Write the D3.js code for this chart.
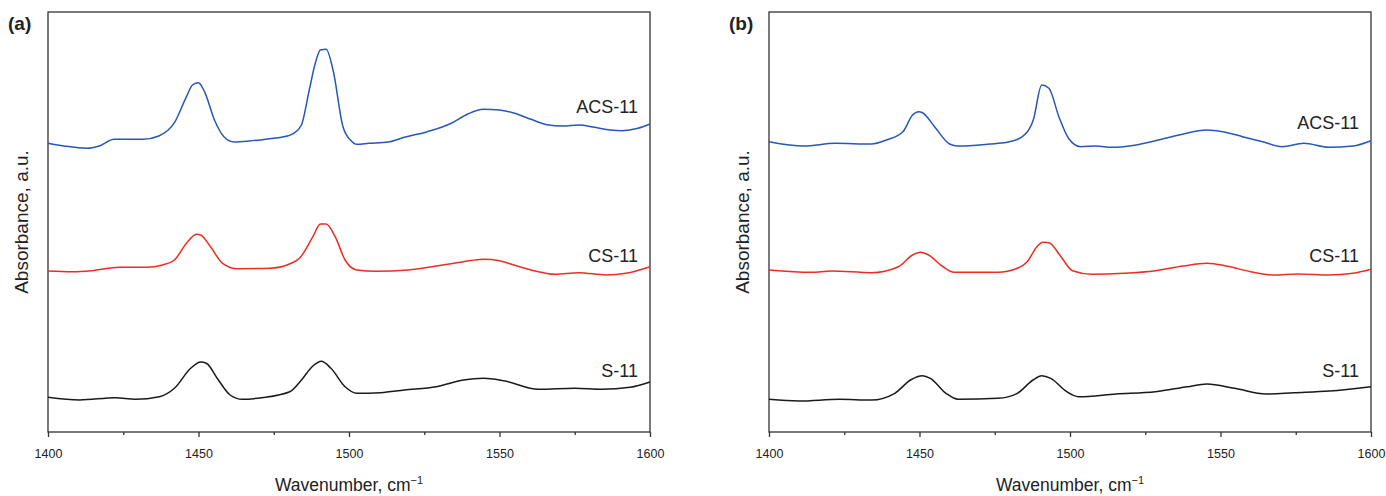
<!DOCTYPE html>
<html lang="en">
  <head>
    <meta charset="utf-8">
    <title>FTIR spectra</title>
    <script src="https://d3js.org/d3.v7.js"></script>
    <style>
      body { margin: 0; background: #fff; }
      text { font-family: "Liberation Sans", Arial, sans-serif; fill: #222; }
    </style>
  </head>
  <body>
    <script>

  // page size
  var w = 1386;
  var h = 496;

  // wavenumber ticks
  var majorTicks = [1400, 1450, 1500, 1550, 1600];
  var minorTicks = [1425, 1475, 1525, 1575];

  // [wavenumber, absorbance a.u.]
  var aACS = [[1400,2.887],[1405.3,2.86],[1413,2.837],[1417,2.86],[1422,2.927],[1431.6,2.927],[1436.8,2.96],[1442,3.093],[1446,3.353],[1448,3.47],[1450,3.493],[1452,3.403],[1455.3,3.12],[1458.6,2.947],[1461.8,2.9],[1467,2.91],[1473.7,2.933],[1477.6,2.947],[1481.6,2.987],[1484.2,3.07],[1486.8,3.42],[1488.8,3.687],[1490.5,3.82],[1492.4,3.827],[1494.7,3.62],[1498,3.053],[1500.7,2.913],[1502.6,2.877],[1506.6,2.887],[1513,2.9],[1518.4,2.947],[1526,3.003],[1534,3.087],[1539.5,3.18],[1544.7,3.227],[1550,3.22],[1555,3.187],[1560.5,3.127],[1565.8,3.073],[1571,3.06],[1576.3,3.07],[1581.6,3.047],[1586.8,3.02],[1590.8,3.013],[1596,3.037],[1600,3.08]];
  var aCS = [[1400,1.61],[1408,1.603],[1414.5,1.613],[1423.7,1.647],[1433,1.647],[1438,1.67],[1442,1.72],[1446,1.887],[1449.3,1.977],[1450.7,1.97],[1454,1.853],[1458,1.687],[1463,1.633],[1473.7,1.637],[1480,1.677],[1484,1.753],[1488,1.953],[1490.5,2.08],[1492.4,2.08],[1495.4,1.953],[1498.7,1.72],[1502.6,1.62],[1509,1.607],[1519.7,1.62],[1529,1.66],[1538,1.703],[1544.7,1.727],[1550,1.713],[1555,1.667],[1561.8,1.61],[1568.4,1.577],[1576.3,1.593],[1585.5,1.57],[1592,1.587],[1600,1.653]];
  var aS = [[1400,0.347],[1410.5,0.32],[1422.4,0.343],[1429,0.327],[1437,0.353],[1442,0.437],[1447.4,0.637],[1450.7,0.7],[1452.6,0.687],[1456.6,0.52],[1460.5,0.37],[1464.5,0.327],[1471,0.343],[1480.3,0.403],[1484.2,0.52],[1488,0.66],[1490.8,0.707],[1494,0.637],[1498.7,0.453],[1502.6,0.387],[1510.5,0.393],[1518.4,0.42],[1529,0.453],[1538,0.52],[1544.7,0.537],[1551.3,0.513],[1563,0.427],[1575,0.437],[1584,0.427],[1593.4,0.447],[1600,0.5]];

  // [wavenumber, absorbance a.u.]
  var bACS = [[1400,2.903],[1411.6,2.86],[1422,2.887],[1434,2.88],[1439,2.92],[1444.5,3.003],[1447.7,3.17],[1449.7,3.203],[1451,3.193],[1455,3.053],[1460,2.88],[1462.8,2.86],[1473.3,2.88],[1479,2.897],[1483.8,2.947],[1487.8,3.12],[1490.6,3.47],[1493,3.437],[1496.3,3.153],[1499.5,2.937],[1503.5,2.853],[1508.7,2.86],[1514,2.847],[1522,2.87],[1528.4,2.913],[1536.3,2.97],[1545.5,3.02],[1550.8,3.003],[1557.3,2.953],[1564,2.903],[1570.5,2.853],[1577.7,2.887],[1586,2.847],[1594,2.86],[1600,2.913]];
  var bCS = [[1400,1.62],[1414,1.597],[1420.7,1.61],[1434,1.593],[1443,1.653],[1447.7,1.77],[1450.3,1.797],[1453,1.77],[1457.5,1.66],[1461.5,1.597],[1476,1.597],[1482.5,1.637],[1485.8,1.703],[1489,1.853],[1491,1.897],[1493,1.893],[1497,1.753],[1500.8,1.613],[1507.4,1.577],[1518,1.587],[1528.4,1.613],[1537.6,1.66],[1545.5,1.687],[1552,1.66],[1560,1.603],[1567.8,1.57],[1575.7,1.58],[1586,1.57],[1594,1.587],[1600,1.627]];
  var bS = [[1400,0.327],[1410,0.31],[1423.4,0.327],[1434,0.32],[1441.8,0.387],[1447,0.52],[1451,0.563],[1453.6,0.537],[1458.8,0.387],[1462.8,0.327],[1476,0.337],[1482.5,0.387],[1487.7,0.52],[1490.6,0.563],[1493.6,0.537],[1498.9,0.403],[1502.8,0.353],[1515.3,0.38],[1528.4,0.403],[1539,0.453],[1545.5,0.48],[1554.7,0.437],[1565.2,0.38],[1574.4,0.393],[1586.2,0.41],[1600,0.453]];

  var seriesNames = ["ACS-11", "CS-11", "S-11"];
  var seriesColors = ["#2757b8", "#ee2c24", "#1a1a1a"];

  // absorbance where each name's baseline sits
  var labelAbsA = [3.19, 1.70, 0.55];
  var labelAbsB = [3.03, 1.70, 0.55];

  var panels = [
    { tag: "(a)", left: 48, data: [aACS, aCS, aS], labels: labelAbsA },
    { tag: "(b)", left: 769, data: [bACS, bCS, bS], labels: labelAbsB }
  ];

  var plotW = 602, plotTop = 12, plotBottom = 432;

  var svg = d3.select("body")
    .append("svg")
    .attr("width", w)
    .attr("height", h);

  panels.forEach(function(p) {
    var xScale = d3.scaleLinear()
      .domain([1400, 1600])
      .range([p.left, p.left + plotW]);

    var yScale = d3.scaleLinear()
      .domain([0, 4.2])
      .range([plotBottom, plotTop]);

    var g = svg.append("g");

    // frame
    g.append("rect")
      .attr("x", p.left)
      .attr("y", plotTop)
      .attr("width", plotW)
      .attr("height", plotBottom - plotTop)
      .attr("fill", "none")
      .attr("stroke", "#333")
      .attr("stroke-width", 1.3);

    // x axis with major and minor ticks
    var xAxis = d3.axisBottom(xScale)
      .tickValues(majorTicks)
      .tickSize(5)
      .tickFormat(d3.format("d"));

    var ax = g.append("g")
      .attr("transform", "translate(0," + plotBottom + ")")
      .call(xAxis);
    ax.select(".domain").remove();
    ax.selectAll("line").attr("stroke", "#333").attr("stroke-width", 1.3);
    ax.selectAll("text")
      .attr("dy", null)
      .attr("y", 26)
      .style("font-size", "12.5px")
      .style("font-family", "'Liberation Sans', Arial, sans-serif")
      .attr("fill", "#222");

    var minor = g.append("g")
      .attr("transform", "translate(0," + plotBottom + ")")
      .call(d3.axisBottom(xScale).tickValues(minorTicks).tickSize(3).tickFormat(""));
    minor.select(".domain").remove();
    minor.selectAll("line").attr("stroke", "#333").attr("stroke-width", 1.3);

    // spectra
    var line = d3.line()
      .x(d => xScale(d[0]))
      .y(d => yScale(d[1]))
      .curve(d3.curveMonotoneX);

    g.selectAll("path.spec")
      .data(p.data)
      .enter()
      .append("path")
      .attr("class", "spec")
      .attr("d", line)
      .attr("fill", "none")
      .attr("stroke", (d, i) => seriesColors[i])
      .attr("stroke-width", 1.5);

    // series names
    g.selectAll("text.name")
      .data(seriesNames)
      .enter()
      .append("text")
      .attr("class", "name")
      .attr("x", xScale(1600) - 12)
      .attr("y", (d, i) => yScale(p.labels[i]))
      .attr("text-anchor", "end")
      .style("font-size", "18px")
      .text(d => d);

    // axis titles
    var title = g.append("text")
      .attr("x", (xScale(1400) + xScale(1600)) / 2)
      .attr("y", 491)
      .attr("text-anchor", "middle")
      .style("font-size", "17.5px");
    title.append("tspan").text("Wavenumber, cm");
    title.append("tspan").attr("dy", -7).style("font-size", "11px").text("\u22121");

    g.append("text")
      .attr("transform", "translate(" + (p.left - 20) + "," + ((plotTop + plotBottom) / 2) + ") rotate(-90)")
      .attr("text-anchor", "middle")
      .style("font-size", "19px")
      .text("Absorbance, a.u.");

    // panel tag
    g.append("text")
      .attr("x", p.left - 40)
      .attr("y", 30)
      .style("font-size", "19px")
      .style("font-weight", "bold")
      .text(p.tag);
  });

    </script>
  </body>
</html>
